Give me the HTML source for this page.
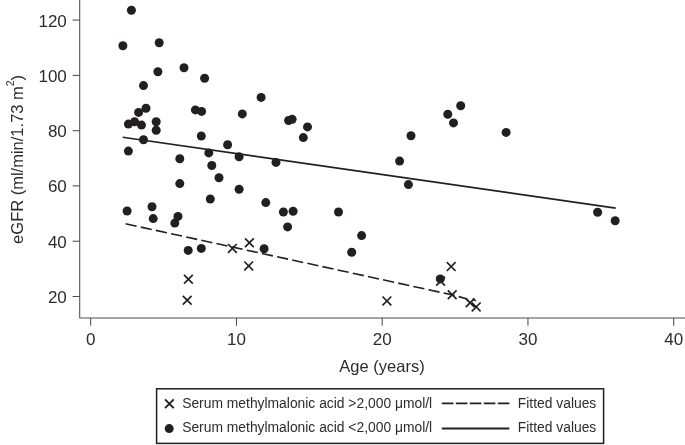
<!DOCTYPE html>
<html><head><meta charset="utf-8"><title>eGFR vs Age</title>
<style>
html,body{margin:0;padding:0;background:#fff;}
body{width:685px;height:445px;overflow:hidden;}
svg{display:block;}
text{font-family:"Liberation Sans",sans-serif;fill:#2e2b2c;}
.ax{font-size:17px;}
.lb{font-size:16.5px;}
.lg{font-size:13.85px;}
</style></head><body>
<svg width="685" height="445" viewBox="0 0 685 445">
<rect width="685" height="445" fill="#fff"/>

<g stroke="#4d4d4f" stroke-width="1.05" fill="none">
<path d="M79.7 0V318.05H685"/>
<path d="M72.6 20.1H79.7"/>
<path d="M72.6 75.4H79.7"/>
<path d="M72.6 130.7H79.7"/>
<path d="M72.6 185.9H79.7"/>
<path d="M72.6 241.2H79.7"/>
<path d="M72.6 296.5H79.7"/>
<path d="M90.7 318.05V325.7"/>
<path d="M236.45 318.05V325.7"/>
<path d="M382.2 318.05V325.7"/>
<path d="M527.95 318.05V325.7"/>
<path d="M673.7 318.05V325.7"/>
</g>
<text class="ax" x="66.8" y="26.6" text-anchor="end">120</text>
<text class="ax" x="66.8" y="81.9" text-anchor="end">100</text>
<text class="ax" x="66.8" y="137.2" text-anchor="end">80</text>
<text class="ax" x="66.8" y="192.4" text-anchor="end">60</text>
<text class="ax" x="66.8" y="247.7" text-anchor="end">40</text>
<text class="ax" x="66.8" y="303.0" text-anchor="end">20</text>
<text class="ax" x="90.7" y="344.8" text-anchor="middle">0</text>
<text class="ax" x="236.45" y="344.8" text-anchor="middle">10</text>
<text class="ax" x="382.2" y="344.8" text-anchor="middle">20</text>
<text class="ax" x="527.95" y="344.8" text-anchor="middle">30</text>
<text class="ax" x="673.7" y="344.8" text-anchor="middle">40</text>
<text class="lb" x="382.0" y="371.6" text-anchor="middle">Age (years)</text>
<text class="lb" transform="translate(22.9 159.4) rotate(-90)" text-anchor="middle">eGFR (ml/min/1.73 m<tspan font-size="10.4px" dy="-9.2">2</tspan><tspan dy="9.2">)</tspan></text>
<path d="M122.7 137.2L615.7 208.1" stroke="#231f20" stroke-width="1.6" fill="none"/>
<path d="M125.6 223.8L452.4 294.9L466.3 298.7L470 302.8L475.8 307M472.6 299L476 300.9" stroke="#231f20" stroke-width="1.6" stroke-dasharray="11.25 4.25" fill="none"/>
<g fill="#231f20">
<circle cx="131.4" cy="10.2" r="4.5"/>
<circle cx="122.9" cy="45.7" r="4.5"/>
<circle cx="159.2" cy="42.7" r="4.5"/>
<circle cx="157.9" cy="71.7" r="4.5"/>
<circle cx="143.5" cy="85.6" r="4.5"/>
<circle cx="184.0" cy="67.7" r="4.5"/>
<circle cx="204.6" cy="78.2" r="4.5"/>
<circle cx="146.0" cy="108.2" r="4.5"/>
<circle cx="138.6" cy="112.4" r="4.5"/>
<circle cx="128.4" cy="124.1" r="4.5"/>
<circle cx="134.6" cy="121.8" r="4.5"/>
<circle cx="141.5" cy="125.1" r="4.5"/>
<circle cx="156.2" cy="121.8" r="4.5"/>
<circle cx="156.2" cy="130.3" r="4.5"/>
<circle cx="143.5" cy="139.7" r="4.5"/>
<circle cx="128.4" cy="151.1" r="4.5"/>
<circle cx="195.4" cy="109.9" r="4.5"/>
<circle cx="201.6" cy="111.4" r="4.5"/>
<circle cx="242.3" cy="113.9" r="4.5"/>
<circle cx="201.3" cy="136.0" r="4.5"/>
<circle cx="227.6" cy="144.7" r="4.5"/>
<circle cx="208.8" cy="152.9" r="4.5"/>
<circle cx="239.1" cy="156.8" r="4.5"/>
<circle cx="179.8" cy="158.8" r="4.5"/>
<circle cx="211.8" cy="165.5" r="4.5"/>
<circle cx="219.0" cy="177.7" r="4.5"/>
<circle cx="179.8" cy="183.6" r="4.5"/>
<circle cx="239.1" cy="189.3" r="4.5"/>
<circle cx="210.3" cy="199.0" r="4.5"/>
<circle cx="152.0" cy="206.7" r="4.5"/>
<circle cx="127.1" cy="211.0" r="4.5"/>
<circle cx="153.2" cy="218.6" r="4.5"/>
<circle cx="178.0" cy="216.4" r="4.5"/>
<circle cx="174.8" cy="223.1" r="4.5"/>
<circle cx="188.2" cy="250.4" r="4.5"/>
<circle cx="201.3" cy="248.4" r="4.5"/>
<circle cx="261.1" cy="97.4" r="4.5"/>
<circle cx="288.6" cy="120.5" r="4.5"/>
<circle cx="292.1" cy="119.2" r="4.5"/>
<circle cx="307.5" cy="126.9" r="4.5"/>
<circle cx="303.3" cy="137.6" r="4.5"/>
<circle cx="411.0" cy="135.8" r="4.5"/>
<circle cx="399.6" cy="161.1" r="4.5"/>
<circle cx="276.0" cy="162.4" r="4.5"/>
<circle cx="265.8" cy="202.6" r="4.5"/>
<circle cx="283.4" cy="212.0" r="4.5"/>
<circle cx="293.1" cy="211.3" r="4.5"/>
<circle cx="287.6" cy="226.9" r="4.5"/>
<circle cx="338.5" cy="212.0" r="4.5"/>
<circle cx="361.6" cy="235.6" r="4.5"/>
<circle cx="351.7" cy="252.2" r="4.5"/>
<circle cx="264.1" cy="248.8" r="4.5"/>
<circle cx="408.4" cy="184.6" r="4.5"/>
<circle cx="460.7" cy="105.8" r="4.5"/>
<circle cx="447.8" cy="114.2" r="4.5"/>
<circle cx="453.5" cy="122.9" r="4.5"/>
<circle cx="506.1" cy="132.4" r="4.5"/>
<circle cx="597.6" cy="212.3" r="4.5"/>
<circle cx="615.2" cy="220.7" r="4.5"/>
<circle cx="440.3" cy="278.9" r="4.5"/>
</g>
<g stroke="#231f20" stroke-width="1.65" fill="none">
<path d="M228.0 244.0L236.8 252.8M228.0 252.8L236.8 244.0"/>
<path d="M184.0 274.8L192.8 283.6M184.0 283.6L192.8 274.8"/>
<path d="M182.8 295.8L191.6 304.6M182.8 304.6L191.6 295.8"/>
<path d="M245.0 238.4L253.8 247.2M245.0 247.2L253.8 238.4"/>
<path d="M244.3 261.5L253.1 270.3M244.3 270.3L253.1 261.5"/>
<path d="M382.5 296.5L391.3 305.3M382.5 305.3L391.3 296.5"/>
<path d="M446.8 262.2L455.6 271.0M446.8 271.0L455.6 262.2"/>
<path d="M436.2 276.9L445.0 285.7M436.2 285.7L445.0 276.9"/>
<path d="M447.8 290.3L456.6 299.1M447.8 299.1L456.6 290.3"/>
<path d="M465.7 298.3L474.5 307.1M465.7 307.1L474.5 298.3"/>
<path d="M471.8 302.5L480.6 311.3M471.8 311.3L480.6 302.5"/>
</g>
<rect x="156.6" y="388.8" width="447" height="54.6" fill="#fff" stroke="#231f20" stroke-width="1.5"/>
<path d="M165.0 399.3L173.8 408.1M165.0 408.1L173.8 399.3" stroke="#231f20" stroke-width="1.9" fill="none"/>
<circle cx="169.2" cy="428.6" r="4.5" fill="#231f20"/>
<text class="lg" x="182.2" y="407.8">Serum methylmalonic acid &gt;2,000 μmol/l</text>
<text class="lg" x="182.2" y="432.3">Serum methylmalonic acid &lt;2,000 μmol/l</text>
<path d="M441.8 403.4H509.4" stroke="#231f20" stroke-width="1.9" stroke-dasharray="11.6 2.4" fill="none"/>
<path d="M441.8 428.5H509.4" stroke="#231f20" stroke-width="1.9" fill="none"/>
<text class="lg" x="517.8" y="407.8">Fitted values</text>
<text class="lg" x="517.8" y="432.3">Fitted values</text>
</svg></body></html>
